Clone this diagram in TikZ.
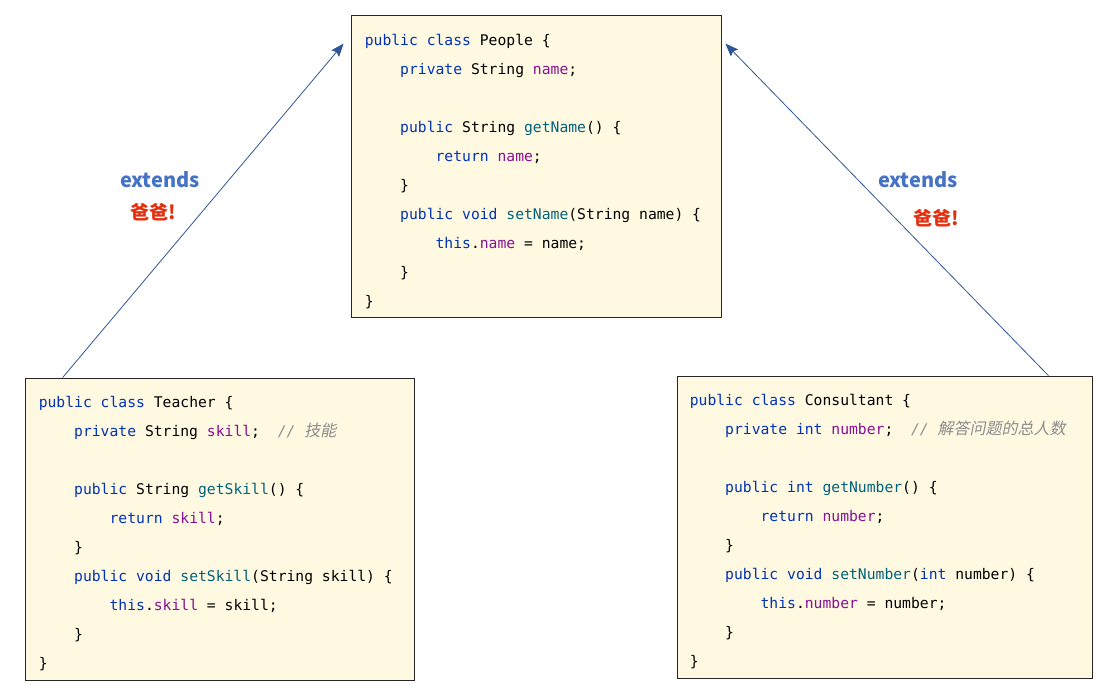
\documentclass[tikz,border=0pt]{standalone}
\usepackage{fontspec}
\setmonofont{DejaVu Sans Mono}
\newfontfamily\cjk{Noto Sans CJK SC}
\newfontfamily\cjkslant{Noto Sans CJK SC}[FakeSlant=0.2]
\usetikzlibrary{arrows.meta, positioning}

\definecolor{boxfill}{RGB}{255,249,226}
\definecolor{kwblue}{RGB}{0,51,179}
\definecolor{fldpurple}{RGB}{135,16,148}
\definecolor{mthteal}{RGB}{0,98,122}
\definecolor{cmtgray}{RGB}{140,140,140}
\definecolor{arrowblue}{RGB}{47,85,151}
\definecolor{extblue}{RGB}{68,114,196}
\definecolor{dadred}{RGB}{226,48,16}

% syntax colouring
\newcommand\kw[1]{\textcolor{kwblue}{#1}}
\newcommand\fld[1]{\textcolor{fldpurple}{#1}}
\newcommand\mth[1]{\textcolor{mthteal}{#1}}
\newcommand\cmt[1]{\textcolor{cmtgray}{\itshape //\ {\cjkslant\fontsize{16}{29}\selectfont #1}}}
\newcommand\ind{\hphantom{xxxx}}

\tikzset{
  classbox/.style = {draw=black!85, line width=0.8pt, fill=boxfill,
                     inner sep=0pt},
  code/.style = {anchor=north west, inner sep=0pt, align=left,
                 font={\ttfamily\fontsize{14.7}{29}\selectfont}},
  link/.style = {line width=0.8pt, arrowblue,
                 arrows={-Stealth[length=13pt, width=10pt, inset=2pt]}},
  extlabel/.style = {font={\cjk\bfseries\fontsize{20}{24}\selectfont},
                     text=extblue, inner sep=0pt},
  dadlabel/.style = {font={\cjk\bfseries\fontsize{19}{22}\selectfont},
                     text=dadred, inner sep=0pt},
}

\begin{document}
\begin{tikzpicture}[x=1pt, y=-1pt]
  \useasboundingbox (0,0) rectangle (1111,692);

  % the three classes
  \node (people) [classbox, minimum width=370pt, minimum height=302pt]
    at (536,166) {};
  \node (teacher) [classbox, minimum width=389pt, minimum height=302pt]
    at (219.5,529) {};
  \node (consultant) [classbox, minimum width=415pt, minimum height=302pt]
    at (884.5,527) {};

  \node (peoplecode) [code] at ([xshift=14pt, yshift=-19pt]people.north west) {%
    \kw{public class} People \{\\
    \ind\kw{private} String \fld{name};\\
    \mbox{}\\
    \ind\kw{public} String \mth{getName}() \{\\
    \ind\ind\kw{return} \fld{name};\\
    \ind\}\\
    \ind\kw{public void} \mth{setName}(String name) \{\\
    \ind\ind\kw{this}.\fld{name} = name;\\
    \ind\}\\
    \}};

  \node (teachercode) [code] at ([xshift=14pt, yshift=-18pt]teacher.north west) {%
    \kw{public class} Teacher \{\\
    \ind\kw{private} String \fld{skill};\ \ \cmt{技能}\\
    \mbox{}\\
    \ind\kw{public} String \mth{getSkill}() \{\\
    \ind\ind\kw{return} \fld{skill};\\
    \ind\}\\
    \ind\kw{public void} \mth{setSkill}(String skill) \{\\
    \ind\ind\kw{this}.\fld{skill} = skill;\\
    \ind\}\\
    \}};

  \node (consultantcode) [code] at ([xshift=13pt, yshift=-18pt]consultant.north west) {%
    \kw{public class} Consultant \{\\
    \ind\kw{private int} \fld{number};\ \ \cmt{解答问题的总人数}\\
    \mbox{}\\
    \ind\kw{public int} \mth{getNumber}() \{\\
    \ind\ind\kw{return} \fld{number};\\
    \ind\}\\
    \ind\kw{public void} \mth{setNumber}(\kw{int} number) \{\\
    \ind\ind\kw{this}.\fld{number} = number;\\
    \ind\}\\
    \}};

  % inheritance arrows
  \draw [link] ([xshift=38pt]teacher.north west)
    -- ([xshift=-7pt, yshift=-29pt]people.north west);
  \draw [link] ([xshift=-44pt]consultant.north east)
    -- ([xshift=4pt, yshift=-29pt]people.north east);

  % labels
  \node (extleft) [extlabel] at (160,180) {extends};
  \node (dadleft) [dadlabel] at (153,212) {爸爸!};
  \node (extright) [extlabel] at (918,180) {extends};
  \node (dadright) [dadlabel] at (936,218) {爸爸!};
\end{tikzpicture}
\end{document}
